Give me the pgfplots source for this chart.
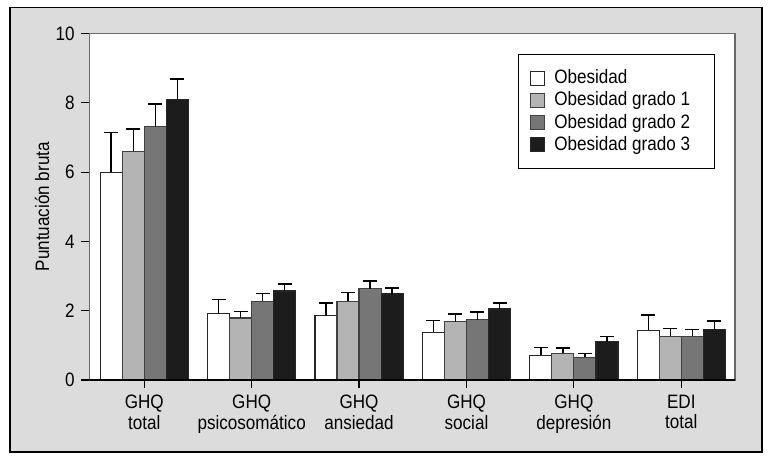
\documentclass[border=0pt]{standalone}
\usepackage{pgfplots}
\pgfplotsset{compat=1.18}
\usepackage{fontspec}
\setmainfont[FakeStretch=0.88]{Liberation Sans}
\definecolor{bg}{RGB}{220,220,220}
\definecolor{g1}{RGB}{180,180,180}
\definecolor{g2}{RGB}{118,118,118}
\definecolor{g3}{RGB}{28,28,28}
\definecolor{axgray}{RGB}{105,105,105}
\begin{document}
\fontsize{9.7}{10.3}\selectfont
\begin{tikzpicture}
\useasboundingbox (-44.75pt,-38pt) rectangle (341.25pt,190pt);
\fill[white] (-44.75pt,-38pt) rectangle (341.25pt,190pt);
\filldraw[fill=bg, draw=black, line width=0.6pt] (-39.75pt,-36pt) rectangle (336.25pt,186.25pt);
\begin{axis}[
  scale only axis, width=322.75pt, height=173.25pt,
  xmin=-0.51, xmax=5.5, ymin=0, ymax=10,
  axis background/.style={fill=white},
  axis line style={draw=axgray, line width=0.7pt},
  ytick={0,2,4,6,8,10}, xtick={0,1,2,3,4,5},
  xticklabels={{GHQ\\total},{GHQ\\psicosomático},{GHQ\\ansiedad},{GHQ\\social},{GHQ\\depresión},{EDI\\total}},
  xticklabel style={align=center, font=\fontsize{9.7}{10.3}\selectfont},
  yticklabel style={font=\fontsize{9.7}{10.3}\selectfont},
  /pgf/number format/assume math mode=true,
  tick align=outside, major tick length=4pt,
  tick style={black, line width=0.6pt},
  xtick pos=bottom, ytick pos=left,
  ylabel={Puntuación bruta},
  ylabel style={at={(axis description cs:-0.0736,0.5)}, rotate=0, anchor=center, font=\fontsize{9.7}{10.3}\selectfont},
  ybar, bar width=0.205,
  error bars/y dir=plus, error bars/y explicit,
  error bars/error bar style={line width=0.75pt, black},
  error bars/error mark options={rotate=90, mark size=3.5pt, line width=0.75pt, black},
  legend image code/.code={\draw[#1, line width=0.5pt] (0pt,-3.5pt) rectangle (7pt,3.5pt); \path (-1pt,0pt) (9.5pt,0pt);},
  legend cell align=left,
  legend style={at={(0.969,0.941)}, anchor=north east, draw=black, line width=0.6pt,
    inner xsep=5pt, inner ysep=5.5pt, row sep=-1.35pt, font=\fontsize{9.7}{10.3}\selectfont},
]
\addplot[fill=white, draw=black!85, line width=0.6pt, bar shift=-0.3075] coordinates {
  (0,6.00) +- (0,1.15)
  (1,1.91) +- (0,0.42)
  (2,1.86) +- (0,0.36)
  (3,1.38) +- (0,0.34)
  (4,0.71) +- (0,0.23)
  (5,1.43) +- (0,0.45)
};
\addlegendentry{\makebox[73pt][l]{Obesidad}}
\addplot[fill=g1, draw=black!75, line width=0.6pt, bar shift=-0.1025] coordinates {
  (0,6.60) +- (0,0.64)
  (1,1.79) +- (0,0.19)
  (2,2.27) +- (0,0.26)
  (3,1.68) +- (0,0.22)
  (4,0.77) +- (0,0.15)
  (5,1.26) +- (0,0.23)
};
\addlegendentry{Obesidad grado 1}
\addplot[fill=g2, draw=black!75, line width=0.6pt, bar shift=0.1025] coordinates {
  (0,7.31) +- (0,0.66)
  (1,2.27) +- (0,0.23)
  (2,2.63) +- (0,0.22)
  (3,1.74) +- (0,0.22)
  (4,0.66) +- (0,0.11)
  (5,1.26) +- (0,0.20)
};
\addlegendentry{Obesidad grado 2}
\addplot[fill=g3, draw=black!85, line width=0.6pt, bar shift=0.3075] coordinates {
  (0,8.09) +- (0,0.60)
  (1,2.57) +- (0,0.20)
  (2,2.49) +- (0,0.16)
  (3,2.05) +- (0,0.17)
  (4,1.10) +- (0,0.16)
  (5,1.45) +- (0,0.25)
};
\addlegendentry{Obesidad grado 3}
\draw[black, line width=0.75pt] (rel axis cs:0,0) -- (rel axis cs:1,0);
\end{axis}
\end{tikzpicture}
\end{document}
